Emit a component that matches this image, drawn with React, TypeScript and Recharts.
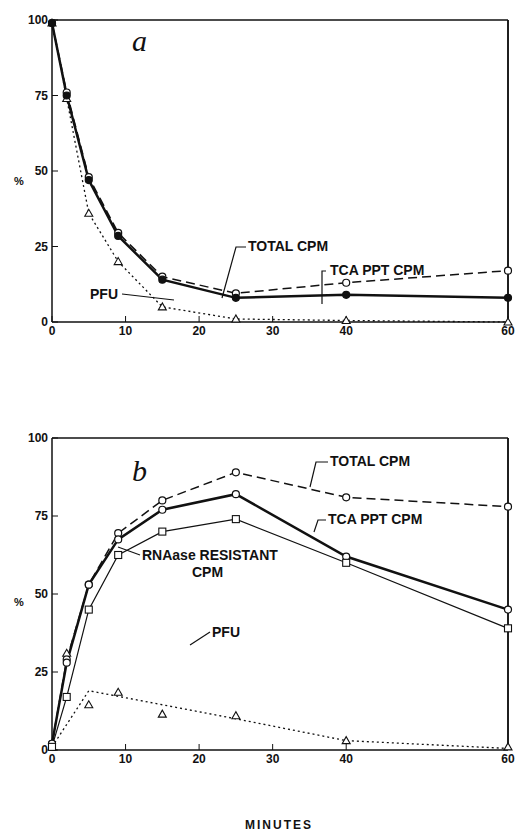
import React from "react";
import { LineChart, Line, XAxis, YAxis, ReferenceLine } from "recharts";

// minutes; 60 is drawn past an axis break at plot position 62
const minutes = [0, 2, 5, 9, 15, 25, 40, 60];
const plotX = [0, 2, 5, 9, 15, 25, 40, 62];
const aTotal = [99, 76, 48, 29.5, 15, 9.5, 13, 17];
const aTca = [99, 75, 47, 28.5, 14, 8, 9, 8];
const aPfu = [99, 74, 36, 20, 5, 1, 0.5, 0];
const bTotal = [2, 29, 53, 69.5, 80, 89, 81, 78];
const bTca = [2, 28, 53, 67.5, 77, 82, 62, 45];
const bRna = [1, 17, 45, 62.5, 70, 74, 60, 39];
const bPfu = [1, 31, 14.5, 18.5, 11.5, 11, 3, 1];
const bPfuFitX = [0, 5, 25, 40, 62];
const bPfuFit = [1, 19, 10, 3, 0.5];
const xTicks = [0, 10, 20, 30, 40, 62];
const xTickLabels: Record<number, string> = { 0: "0", 10: "10", 20: "20", 30: "30", 40: "40", 62: "60" };
const yTicks = [0, 25, 50, 75, 100];

const build = (series: Record<string, number[]>) =>
  plotX.map((x, i) => {
    const o: any = { x, min: minutes[i] };
    for (const k in series) o[k] = series[k][i];
    return o;
  });

const dataA = build({ total: aTotal, tca: aTca, pfu: aPfu });
const dataB = build({ total: bTotal, tca: bTca, rna: bRna, pfu: bPfu }).concat(
  bPfuFitX.map((x, i) => ({ x, fit: bPfuFit[i] } as any))
).sort((p: any, q: any) => p.x - q.x);

const font = "'Liberation Sans', Arial, sans-serif";
const tickStyle = { fill: "#111", fontSize: 12, fontWeight: 700, fontFamily: font };

const Circle = (fill: string) => (p: any) =>
  p.value == null ? null : <circle key={p.index} cx={p.cx} cy={p.cy} r={3.5} fill={fill} stroke="#111" strokeWidth={1.2} />;
const Tri = (p: any) =>
  p.value == null ? null : (
    <polygon key={p.index} points={`${p.cx},${p.cy - 4} ${p.cx - 4},${p.cy + 3} ${p.cx + 4},${p.cy + 3}`} fill="#fff" stroke="#111" strokeWidth={1.1} />
  );
const Sq = (p: any) =>
  p.value == null ? null : <rect key={p.index} x={p.cx - 3.5} y={p.cy - 3.5} width={7} height={7} fill="#fff" stroke="#111" strokeWidth={1.1} />;

const ax = { stroke: "#111", strokeWidth: 1.5 };
const axes = (key: string) => [
  <XAxis key="x" dataKey="x" type="number" domain={[0, 62]} ticks={xTicks} tickFormatter={(v) => xTickLabels[v]} tick={tickStyle} height={23} tickSize={-6} axisLine={ax} tickLine={{ stroke: "#111" }} tickMargin={10} />,
  <YAxis key="y" type="number" domain={[0, 100]} ticks={yTicks} tick={tickStyle} width={52} tickSize={-6} axisLine={ax} tickLine={{ stroke: "#111" }} tickMargin={10} />,
  <YAxis key="r" yAxisId="r" orientation="right" type="number" domain={[0, 100]} ticks={yTicks} tick={false} width={1} tickSize={-6} axisLine={ax} tickLine={{ stroke: "#111" }} />,
  <ReferenceLine key="top" y={100} stroke="#111" strokeWidth={1.5} />,
  <ReferenceLine key="right" x={62} stroke="#111" strokeWidth={1.5} />,
  <Line key="hid" yAxisId="r" dataKey={key} stroke="none" dot={false} isAnimationActive={false} />,
];

const lbl = (x: number, y: number, t: string, extra: any = {}) => (
  <div style={{ position: "absolute", left: x, top: y, fontFamily: font, fontWeight: 700, fontSize: 14, color: "#111", whiteSpace: "nowrap", ...extra }}>{t}</div>
);

export default function App() {
  return (
    <div style={{ position: "absolute", left: 0, top: 0, width: 522, height: 840, background: "#fff" }}>
      <div style={{ position: "absolute", left: 0, top: 0 }}>
        <LineChart width={522} height={345} data={dataA} margin={{ top: 20, right: 13, left: 0, bottom: 0 }}>
          {axes("tca")}
          <Line dataKey="pfu" stroke="#111" strokeWidth={1.3} strokeDasharray="2 3" dot={Tri} isAnimationActive={false} />
          <Line dataKey="total" stroke="#111" strokeWidth={1.5} strokeDasharray="9 5" dot={Circle("#fff")} isAnimationActive={false} />
          <Line dataKey="tca" stroke="#111" strokeWidth={2.5} dot={Circle("#111")} isAnimationActive={false} />
        </LineChart>
      </div>
      <div style={{ position: "absolute", left: 0, top: 420 }}>
        <LineChart width={522} height={353} data={dataB} margin={{ top: 18, right: 13, left: 0, bottom: 0 }}>
          {axes("tca")}
          <Line dataKey="fit" stroke="#111" strokeWidth={1.3} strokeDasharray="2 3" dot={false} connectNulls isAnimationActive={false} />
          <Line dataKey="pfu" stroke="none" dot={Tri} isAnimationActive={false} />
          <Line dataKey="total" stroke="#111" strokeWidth={1.5} strokeDasharray="9 5" dot={Circle("#fff")} connectNulls isAnimationActive={false} />
          <Line dataKey="tca" stroke="#111" strokeWidth={2.5} dot={Circle("#fff")} connectNulls isAnimationActive={false} />
          <Line dataKey="rna" stroke="#111" strokeWidth={1.2} dot={Sq} connectNulls isAnimationActive={false} />
        </LineChart>
      </div>
      {lbl(14, 175, "%", { fontSize: 11 })}
      {lbl(14, 596, "%", { fontSize: 11 })}
      {lbl(132, 24, "a", { fontFamily: "'Liberation Serif', serif", fontStyle: "italic", fontWeight: 400, fontSize: 30 })}
      {lbl(132, 454, "b", { fontFamily: "'Liberation Serif', serif", fontStyle: "italic", fontWeight: 400, fontSize: 30 })}
      {lbl(248, 238, "TOTAL  CPM")}
      {lbl(330, 262, "TCA  PPT  CPM")}
      {lbl(90, 286, "PFU")}
      {lbl(330, 453, "TOTAL  CPM")}
      {lbl(328, 511, "TCA  PPT  CPM")}
      {lbl(142, 547, "RNAase RESISTANT")}
      {lbl(192, 564, "CPM")}
      {lbl(212, 624, "PFU")}
      {lbl(245, 818, "MINUTES", { fontSize: 12, letterSpacing: 2 })}
      <svg width={522} height={840} style={{ position: "absolute", left: 0, top: 0, pointerEvents: "none" }}>
        <g stroke="#111" strokeWidth={1.2} fill="none">
          <polyline points="246,247 236,247 222,298" />
          <polyline points="326,271 322,271 322,304" />
          <line x1={122} y1={294} x2={174} y2={300} />
          <polyline points="328,462 316,462 310,487" />
          <polyline points="326,520 318,520 314,532" />
          <line x1={140} y1={555} x2={118} y2={547} />
          <line x1={210} y1={632} x2={190} y2={645} />
        </g>
      </svg>
    </div>
  );
}
